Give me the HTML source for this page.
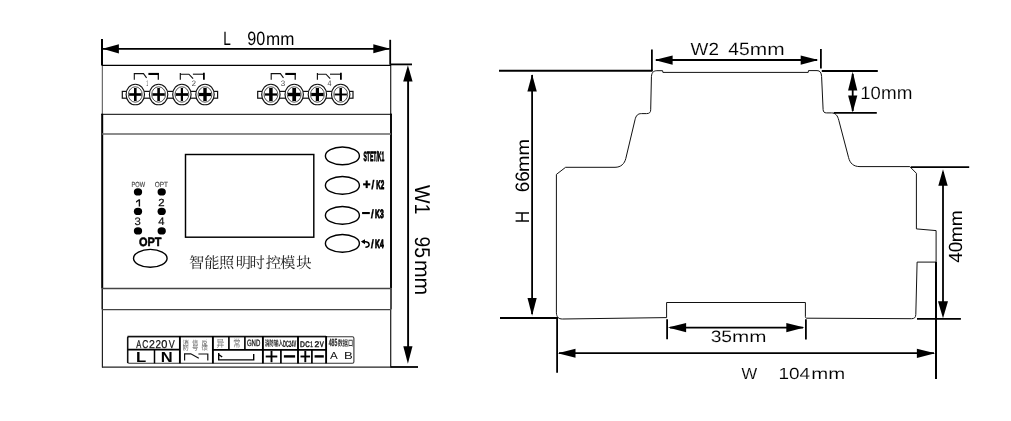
<!DOCTYPE html>
<html><head><meta charset="utf-8"><title>Dimension drawing</title>
<style>
html,body{margin:0;padding:0;background:#fff;}
body{width:1011px;height:421px;overflow:hidden;font-family:"Liberation Sans",sans-serif;}
svg{display:block;will-change:transform;}
</style></head><body>
<svg width="1011" height="421" viewBox="0 0 1011 421" text-rendering="geometricPrecision">
<rect width="1011" height="421" fill="#fff"/>
<line x1="102.3" y1="65" x2="102.3" y2="114" stroke="#4a4a4a" stroke-width="1.0" stroke-linecap="butt"/>
<line x1="390.7" y1="65" x2="390.7" y2="114" stroke="#222" stroke-width="1.2" stroke-linecap="butt"/>
<line x1="102" y1="65.4" x2="391" y2="65.4" stroke="#000" stroke-width="1.2" stroke-linecap="butt"/>
<line x1="102.2" y1="113.8" x2="102.2" y2="288.5" stroke="#000" stroke-width="2.0" stroke-linecap="butt"/>
<line x1="391.0" y1="113.8" x2="391.0" y2="288.5" stroke="#000" stroke-width="1.9" stroke-linecap="butt"/>
<line x1="102.2" y1="288.5" x2="102.2" y2="309.6" stroke="#000" stroke-width="1.4" stroke-linecap="butt"/>
<line x1="391.0" y1="288.5" x2="391.0" y2="309.6" stroke="#000" stroke-width="1.4" stroke-linecap="butt"/>
<line x1="102.4" y1="309.6" x2="102.4" y2="367.5" stroke="#222" stroke-width="1.2" stroke-linecap="butt"/>
<line x1="390.7" y1="309.6" x2="390.7" y2="367.5" stroke="#222" stroke-width="1.25" stroke-linecap="butt"/>
<line x1="101.2" y1="114.3" x2="392" y2="114.3" stroke="#000" stroke-width="1.0" stroke-linecap="butt"/>
<line x1="102" y1="133.9" x2="391" y2="133.9" stroke="#666" stroke-width="1.5" stroke-linecap="butt"/>
<line x1="102" y1="288.5" x2="391" y2="288.5" stroke="#444" stroke-width="1.3" stroke-linecap="butt"/>
<line x1="102" y1="309.6" x2="391" y2="309.6" stroke="#444" stroke-width="1.3" stroke-linecap="butt"/>
<line x1="102" y1="367.2" x2="391" y2="367.2" stroke="#222" stroke-width="1.2" stroke-linecap="butt"/>
<line x1="102.0" y1="39" x2="102.0" y2="65.4" stroke="#000" stroke-width="2.0" stroke-linecap="butt"/>
<line x1="390.2" y1="39.8" x2="390.2" y2="64.8" stroke="#000" stroke-width="1.8" stroke-linecap="butt"/>
<line x1="103" y1="48.8" x2="389.5" y2="48.8" stroke="#000" stroke-width="1.8" stroke-linecap="butt"/>
<polygon points="102.55,48.80 118.90,44.20 118.90,53.40" fill="#000"/>
<polygon points="390.05,48.70 373.30,53.20 373.30,44.20" fill="#000"/>
<text x="223.18" y="44.9" font-size="19.33" font-weight="normal" fill="#000" font-family="'Liberation Sans', sans-serif" text-anchor="start" textLength="7.57" lengthAdjust="spacingAndGlyphs" >L</text>
<text x="247.34" y="44.9" font-size="19.33" font-weight="normal" fill="#000" font-family="'Liberation Sans', sans-serif" text-anchor="start" textLength="17.99" lengthAdjust="spacingAndGlyphs" >90</text>
<text x="265.97" y="44.9" font-size="18.21" font-weight="normal" fill="#000" font-family="'Liberation Sans', sans-serif" text-anchor="start" textLength="28.35" lengthAdjust="spacingAndGlyphs" >mm</text>
<line x1="390.2" y1="64.4" x2="412" y2="64.4" stroke="#000" stroke-width="1.8" stroke-linecap="butt"/>
<line x1="390.7" y1="367.0" x2="418" y2="367.0" stroke="#000" stroke-width="1.8" stroke-linecap="butt"/>
<line x1="408.1" y1="70" x2="408.1" y2="358" stroke="#000" stroke-width="1.9" stroke-linecap="butt"/>
<polygon points="407.90,65.15 412.60,81.40 403.20,81.40" fill="#000"/>
<polygon points="407.90,363.75 403.30,346.30 412.50,346.30" fill="#000"/>
<text x="414.5" y="184.91" font-size="21.51" font-weight="normal" fill="#000" font-family="'Liberation Sans', sans-serif" text-anchor="start" textLength="29.55" lengthAdjust="spacingAndGlyphs" transform="rotate(90 414.5 184.91)" >W1</text>
<text x="414.5" y="236.5" font-size="21.48" font-weight="normal" fill="#000" font-family="'Liberation Sans', sans-serif" text-anchor="start" textLength="21.41" lengthAdjust="spacingAndGlyphs" transform="rotate(90 414.5 236.5)" >95</text>
<text x="414.5" y="259.89" font-size="21.37" font-weight="normal" fill="#000" font-family="'Liberation Sans', sans-serif" text-anchor="start" textLength="35.41" lengthAdjust="spacingAndGlyphs" transform="rotate(90 414.5 259.89)" >mm</text>
<rect x="122.3" y="91.4" width="95.3" height="6.8" fill="#fff" stroke="#111" stroke-width="1.2"/>
<ellipse cx="135.3" cy="94.5" rx="9.2" ry="10.3" fill="#fff" stroke="#111" stroke-width="1.15"/>
<ellipse cx="135.3" cy="94.5" rx="6.9" ry="7.7" fill="none" stroke="#333" stroke-width="0.85"/>
<rect x="129.10000000000002" y="93.2" width="12.4" height="2.6" fill="#000"/>
<rect x="134.0" y="88.0" width="2.6" height="13.0" fill="#000"/>
<ellipse cx="158.6" cy="94.5" rx="9.2" ry="10.3" fill="#fff" stroke="#111" stroke-width="1.15"/>
<ellipse cx="158.6" cy="94.5" rx="6.9" ry="7.7" fill="none" stroke="#333" stroke-width="0.85"/>
<rect x="152.4" y="93.2" width="12.4" height="2.6" fill="#000"/>
<rect x="157.29999999999998" y="88.0" width="2.6" height="13.0" fill="#000"/>
<ellipse cx="181.9" cy="94.5" rx="9.2" ry="10.3" fill="#fff" stroke="#111" stroke-width="1.15"/>
<ellipse cx="181.9" cy="94.5" rx="6.9" ry="7.7" fill="none" stroke="#333" stroke-width="0.85"/>
<rect x="175.70000000000002" y="93.15" width="12.4" height="2.7" fill="#000"/>
<rect x="180.8" y="88.0" width="2.2" height="13.0" fill="#000"/>
<ellipse cx="205.0" cy="94.5" rx="9.2" ry="10.3" fill="#fff" stroke="#111" stroke-width="1.15"/>
<ellipse cx="205.0" cy="94.5" rx="6.9" ry="7.7" fill="none" stroke="#333" stroke-width="0.85"/>
<rect x="198.8" y="92.9" width="12.4" height="3.2" fill="#000"/>
<rect x="203.3" y="88.0" width="3.4" height="13.0" fill="#000"/>
<rect x="257.7" y="91.4" width="95.30000000000001" height="6.8" fill="#fff" stroke="#111" stroke-width="1.2"/>
<ellipse cx="270.9" cy="94.5" rx="9.2" ry="10.3" fill="#fff" stroke="#111" stroke-width="1.15"/>
<ellipse cx="270.9" cy="94.5" rx="6.9" ry="7.7" fill="none" stroke="#333" stroke-width="0.85"/>
<rect x="264.7" y="93.35" width="12.4" height="2.3" fill="#000"/>
<rect x="269.15" y="88.0" width="3.5" height="13.0" fill="#000"/>
<ellipse cx="294.2" cy="94.5" rx="9.2" ry="10.3" fill="#fff" stroke="#111" stroke-width="1.15"/>
<ellipse cx="294.2" cy="94.5" rx="6.9" ry="7.7" fill="none" stroke="#333" stroke-width="0.85"/>
<rect x="288.0" y="92.8" width="12.4" height="3.4" fill="#000"/>
<rect x="292.34999999999997" y="88.0" width="3.7" height="13.0" fill="#000"/>
<ellipse cx="317.4" cy="94.5" rx="9.2" ry="10.3" fill="#fff" stroke="#111" stroke-width="1.15"/>
<ellipse cx="317.4" cy="94.5" rx="6.9" ry="7.7" fill="none" stroke="#333" stroke-width="0.85"/>
<rect x="311.2" y="92.9" width="12.4" height="3.2" fill="#000"/>
<rect x="315.79999999999995" y="88.0" width="3.2" height="13.0" fill="#000"/>
<ellipse cx="340.7" cy="94.5" rx="9.2" ry="10.3" fill="#fff" stroke="#111" stroke-width="1.15"/>
<ellipse cx="340.7" cy="94.5" rx="6.9" ry="7.7" fill="none" stroke="#333" stroke-width="0.85"/>
<rect x="334.5" y="93.55" width="12.4" height="1.9" fill="#000"/>
<rect x="339.45" y="88.0" width="2.5" height="13.0" fill="#000"/>
<path d="M134.3 79.8V73.6H143.5L146.60000000000002 77.89999999999999" stroke="#111" stroke-width="1.1" fill="none" />
<path d="M148.4 73.94999999999999H158.8" stroke="#000" stroke-width="2.1" fill="none" />
<path d="M158.3 73.1V79.8" stroke="#000" stroke-width="1.2" fill="none" />
<text x="146.23" y="85.8" font-size="7.99" font-weight="normal" fill="#444" font-family="'Liberation Sans', sans-serif" text-anchor="start" textLength="1.93" lengthAdjust="spacingAndGlyphs" >1</text>
<path d="M180.3 72.9V79.8M180.3 74.2H188.9L193.10000000000002 78.6" stroke="#111" stroke-width="1.15" fill="none" />
<path d="M192.9 74.2H203.9" stroke="#111" stroke-width="1.1" fill="none" />
<path d="M203.9 72.8V79.8" stroke="#000" stroke-width="1.8" fill="none" />
<text x="191.81" y="85.9" font-size="7.88" font-weight="normal" fill="#444" font-family="'Liberation Sans', sans-serif" text-anchor="start" textLength="4.27" lengthAdjust="spacingAndGlyphs" >2</text>
<path d="M271.2 79.8V73.6H280.4L283.5 77.89999999999999" stroke="#111" stroke-width="1.1" fill="none" />
<path d="M285.3 73.94999999999999H295.7" stroke="#000" stroke-width="2.1" fill="none" />
<path d="M295.2 73.1V79.8" stroke="#000" stroke-width="1.2" fill="none" />
<text x="280.89" y="85.6" font-size="7.88" font-weight="normal" fill="#444" font-family="'Liberation Sans', sans-serif" text-anchor="start" textLength="4.46" lengthAdjust="spacingAndGlyphs" >3</text>
<path d="M317.4 72.9V79.8M317.4 74.2H326.0L330.2 78.6" stroke="#111" stroke-width="1.15" fill="none" />
<path d="M330.0 74.2H340.9" stroke="#111" stroke-width="1.1" fill="none" />
<path d="M340.9 72.8V79.8" stroke="#000" stroke-width="1.8" fill="none" />
<text x="327.44" y="85.9" font-size="7.99" font-weight="normal" fill="#444" font-family="'Liberation Sans', sans-serif" text-anchor="start" textLength="3.97" lengthAdjust="spacingAndGlyphs" >4</text>
<rect x="185.5" y="154.5" width="128.3" height="82.7" fill="none" stroke="#000" stroke-width="1.45"/>
<ellipse cx="138.0" cy="191.9" rx="4.15" ry="3.65" fill="#000"/>
<ellipse cx="138.0" cy="211.4" rx="4.15" ry="3.65" fill="#000"/>
<ellipse cx="138.0" cy="230.9" rx="4.15" ry="3.65" fill="#000"/>
<ellipse cx="161.7" cy="191.9" rx="4.15" ry="3.65" fill="#000"/>
<ellipse cx="161.7" cy="211.4" rx="4.15" ry="3.65" fill="#000"/>
<ellipse cx="161.7" cy="230.9" rx="4.15" ry="3.65" fill="#000"/>
<text x="131.43" y="186.9" font-size="7.45" font-weight="normal" fill="#444" font-family="'Liberation Sans', sans-serif" text-anchor="start" textLength="13.59" lengthAdjust="spacingAndGlyphs" stroke="#444" stroke-width="0.15" stroke-linejoin="round" >POW</text>
<text x="154.79" y="186.9" font-size="7.45" font-weight="normal" fill="#444" font-family="'Liberation Sans', sans-serif" text-anchor="start" textLength="13.25" lengthAdjust="spacingAndGlyphs" stroke="#444" stroke-width="0.15" stroke-linejoin="round" >OPT</text>
<polygon points="136.00,201.30 138.80,199.20 140.10,199.20 140.10,206.40 138.70,206.40 138.70,201.00 136.00,202.70" fill="#111"/>
<text x="158.23" y="206.4" font-size="10.31" font-weight="normal" fill="#111" font-family="'Liberation Sans', sans-serif" text-anchor="start" textLength="6.35" lengthAdjust="spacingAndGlyphs" stroke="#111" stroke-width="0.25" stroke-linejoin="round" >2</text>
<text x="134.47" y="225.1" font-size="10.88" font-weight="normal" fill="#111" font-family="'Liberation Sans', sans-serif" text-anchor="start" textLength="6.33" lengthAdjust="spacingAndGlyphs" stroke="#111" stroke-width="0.15" stroke-linejoin="round" >3</text>
<text x="158.24" y="225.0" font-size="10.76" font-weight="normal" fill="#111" font-family="'Liberation Sans', sans-serif" text-anchor="start" textLength="6.29" lengthAdjust="spacingAndGlyphs" stroke="#111" stroke-width="0.15" stroke-linejoin="round" >4</text>
<text x="138.95" y="245.6" font-size="12.17" font-weight="bold" fill="#000" font-family="'Liberation Sans', sans-serif" text-anchor="start" textLength="22.57" lengthAdjust="spacingAndGlyphs" stroke="#000" stroke-width="0.55" stroke-linejoin="round" >OPT</text>
<ellipse cx="150.3" cy="258.3" rx="16.8" ry="8.9" fill="none" stroke="#000" stroke-width="1.4"/>
<ellipse cx="342.4" cy="155.9" rx="17.0" ry="8.85" fill="none" stroke="#000" stroke-width="1.4"/>
<ellipse cx="342.4" cy="185.4" rx="17.0" ry="8.85" fill="none" stroke="#000" stroke-width="1.4"/>
<ellipse cx="342.4" cy="215.4" rx="17.0" ry="8.85" fill="none" stroke="#000" stroke-width="1.4"/>
<ellipse cx="342.4" cy="243.4" rx="17.0" ry="8.85" fill="none" stroke="#000" stroke-width="1.4"/>
<text x="363.5" y="160.7" font-size="13.4" font-weight="bold" fill="#000" font-family="'Liberation Sans', sans-serif" text-anchor="start" textLength="20.8" lengthAdjust="spacingAndGlyphs" stroke="#000" stroke-width="0.85" stroke-linejoin="round" >STET/K1</text>
<rect x="363.1" y="183.3" width="7.2" height="2.1" fill="#000"/>
<rect x="365.65" y="180.5" width="2.1" height="7.6" fill="#000"/>
<text x="371.3" y="188.6" font-size="12.5" font-weight="bold" fill="#000" font-family="'Liberation Sans', sans-serif" text-anchor="start" textLength="3.2" lengthAdjust="spacingAndGlyphs" stroke="#000" stroke-width="0.25" stroke-linejoin="round" >/</text>
<text x="376.3" y="188.6" font-size="12.5" font-weight="bold" fill="#000" font-family="'Liberation Sans', sans-serif" text-anchor="start" textLength="8.0" lengthAdjust="spacingAndGlyphs" stroke="#000" stroke-width="0.95" stroke-linejoin="round" >K2</text>
<rect x="362.1" y="212.0" width="7.7" height="2.1" fill="#000"/>
<text x="370.8" y="217.8" font-size="12.2" font-weight="bold" fill="#000" font-family="'Liberation Sans', sans-serif" text-anchor="start" textLength="3.2" lengthAdjust="spacingAndGlyphs" stroke="#000" stroke-width="0.25" stroke-linejoin="round" >/</text>
<text x="375.1" y="217.8" font-size="12.2" font-weight="bold" fill="#000" font-family="'Liberation Sans', sans-serif" text-anchor="start" textLength="8.6" lengthAdjust="spacingAndGlyphs" stroke="#000" stroke-width="0.95" stroke-linejoin="round" >K3</text>
<text x="370.8" y="248.1" font-size="12.2" font-weight="bold" fill="#000" font-family="'Liberation Sans', sans-serif" text-anchor="start" textLength="3.2" lengthAdjust="spacingAndGlyphs" stroke="#000" stroke-width="0.25" stroke-linejoin="round" >/</text>
<text x="375.1" y="248.1" font-size="12.2" font-weight="bold" fill="#000" font-family="'Liberation Sans', sans-serif" text-anchor="start" textLength="8.6" lengthAdjust="spacingAndGlyphs" stroke="#000" stroke-width="0.95" stroke-linejoin="round" >K4</text>
<path d="M362.6 242.3 C365.5 241.3 369.0 241.8 369.1 244.4 C369.1 246.4 367.4 247.1 365.4 247.2" stroke="#000" stroke-width="1.5" fill="none" />
<polygon points="360.90,241.60 365.00,239.20 365.00,244.20" fill="#000"/>
<text x="188.92 204.13 218.93 235.77 249.59 265.72 279.92 296.17" y="268.15" font-size="15.3" font-weight="normal" fill="#1c1c1c" font-family="'Liberation Serif', 'Noto Serif CJK SC', serif" text-anchor="start">智能照明时控模块</text>
<rect x="127.5" y="336.8" width="226.4" height="26.4" rx="1.5" fill="none" stroke="#333" stroke-width="1.1"/>
<line x1="127.5" y1="336.5" x2="326" y2="336.5" stroke="#111" stroke-width="1.4" stroke-linecap="butt"/>
<line x1="127.5" y1="349.7" x2="179.8" y2="349.7" stroke="#000" stroke-width="1.7" stroke-linecap="butt"/>
<line x1="212.8" y1="349.8" x2="326" y2="349.8" stroke="#000" stroke-width="1.8" stroke-linecap="butt"/>
<line x1="127.7" y1="337" x2="127.7" y2="363" stroke="#111" stroke-width="1.5" stroke-linecap="butt"/>
<line x1="154.5" y1="349.5" x2="154.5" y2="363.3" stroke="#000" stroke-width="1.5" stroke-linecap="butt"/>
<line x1="179.9" y1="336.0" x2="179.9" y2="363.4" stroke="#000" stroke-width="1.9" stroke-linecap="butt"/>
<line x1="212.9" y1="336.0" x2="212.9" y2="363.4" stroke="#000" stroke-width="1.9" stroke-linecap="butt"/>
<line x1="262.9" y1="336.0" x2="262.9" y2="363.4" stroke="#000" stroke-width="1.9" stroke-linecap="butt"/>
<line x1="298.0" y1="336.0" x2="298.0" y2="363.4" stroke="#000" stroke-width="1.9" stroke-linecap="butt"/>
<line x1="326.1" y1="336.0" x2="326.1" y2="363.4" stroke="#000" stroke-width="1.9" stroke-linecap="butt"/>
<line x1="228.9" y1="336.8" x2="228.9" y2="349.5" stroke="#000" stroke-width="1.6" stroke-linecap="butt"/>
<line x1="244.9" y1="336.8" x2="244.9" y2="349.5" stroke="#000" stroke-width="1.6" stroke-linecap="butt"/>
<line x1="280.9" y1="349.5" x2="280.9" y2="363.3" stroke="#000" stroke-width="1.7" stroke-linecap="butt"/>
<line x1="311.9" y1="349.5" x2="311.9" y2="363.3" stroke="#000" stroke-width="1.7" stroke-linecap="butt"/>
<text x="136.19" y="347.7" font-size="11.3" font-weight="normal" fill="#111" font-family="'Liberation Sans', sans-serif" text-anchor="start" textLength="5.03" lengthAdjust="spacingAndGlyphs" stroke="#111" stroke-width="0.25" stroke-linejoin="round" >A</text>
<text x="142.18" y="347.7" font-size="11.3" font-weight="normal" fill="#111" font-family="'Liberation Sans', sans-serif" text-anchor="start" textLength="6.04" lengthAdjust="spacingAndGlyphs" stroke="#111" stroke-width="0.25" stroke-linejoin="round" >C</text>
<text x="148.97" y="347.7" font-size="11.3" font-weight="normal" fill="#111" font-family="'Liberation Sans', sans-serif" text-anchor="start" textLength="5.86" lengthAdjust="spacingAndGlyphs" stroke="#111" stroke-width="0.25" stroke-linejoin="round" >2</text>
<text x="155.4" y="347.7" font-size="11.3" font-weight="normal" fill="#111" font-family="'Liberation Sans', sans-serif" text-anchor="start" textLength="5.49" lengthAdjust="spacingAndGlyphs" stroke="#111" stroke-width="0.25" stroke-linejoin="round" >2</text>
<text x="161.37" y="347.7" font-size="11.3" font-weight="normal" fill="#111" font-family="'Liberation Sans', sans-serif" text-anchor="start" textLength="6.17" lengthAdjust="spacingAndGlyphs" stroke="#111" stroke-width="0.25" stroke-linejoin="round" >0</text>
<text x="168.66" y="347.7" font-size="11.3" font-weight="normal" fill="#111" font-family="'Liberation Sans', sans-serif" text-anchor="start" textLength="5.98" lengthAdjust="spacingAndGlyphs" stroke="#111" stroke-width="0.25" stroke-linejoin="round" >V</text>
<text x="136.08" y="361.9" font-size="14.54" font-weight="bold" fill="#000" font-family="'Liberation Sans', sans-serif" text-anchor="start" textLength="10.24" lengthAdjust="spacingAndGlyphs" >L</text>
<text x="160.7" y="361.9" font-size="14.54" font-weight="bold" fill="#000" font-family="'Liberation Sans', sans-serif" text-anchor="start" textLength="11.92" lengthAdjust="spacingAndGlyphs" >N</text>
<text x="182.6 192.05 201.5" y="344.7" font-size="6.4" font-weight="normal" fill="#555" font-family="'Liberation Sans', 'Noto Sans CJK SC', sans-serif" text-anchor="start">消信反</text>
<text x="182.6 192.05 201.5" y="350.3" font-size="6.4" font-weight="normal" fill="#555" font-family="'Liberation Sans', 'Noto Sans CJK SC', sans-serif" text-anchor="start">防号馈</text>
<path d="M184.6 360.4V353.8H190.8L198.8 358.2M198.4 354H207.8V360.4" stroke="#111" stroke-width="1.2" fill="none" />
<text x="216.4" y="347.0" font-size="10.16" font-weight="normal" fill="#777" font-family="'Liberation Sans', 'Noto Sans CJK SC', sans-serif" text-anchor="start" textLength="7.76" lengthAdjust="spacingAndGlyphs">异</text>
<text x="233.3" y="347.0" font-size="10.16" font-weight="normal" fill="#777" font-family="'Liberation Sans', 'Noto Sans CJK SC', sans-serif" text-anchor="start" textLength="7.2" lengthAdjust="spacingAndGlyphs">常</text>
<text x="246.9" y="346.3" font-size="9.17" font-weight="normal" fill="#222" font-family="'Liberation Sans', sans-serif" text-anchor="start" textLength="13.39" lengthAdjust="spacingAndGlyphs" stroke="#222" stroke-width="0.35" stroke-linejoin="round" >GND</text>
<path d="M218.7 353.1V359.9H253.7V354M218.7 354.5L222.2 357" stroke="#000" stroke-width="1.4" fill="none" />
<text x="264.8" y="346.4" font-size="7.99" font-weight="bold" fill="#1a1a1a" font-family="'Liberation Sans', 'Noto Sans CJK SC', sans-serif" text-anchor="start" textLength="18.2" lengthAdjust="spacingAndGlyphs">消防输入</text>
<text x="283.03" y="346.9" font-size="9.31" font-weight="bold" fill="#1a1a1a" font-family="'Liberation Sans', sans-serif" text-anchor="start" textLength="13.1" lengthAdjust="spacingAndGlyphs" stroke="#1a1a1a" stroke-width="0.2" stroke-linejoin="round" >DC24V</text>
<text x="299.95" y="346.7" font-size="8.12" font-weight="normal" fill="#1a1a1a" font-family="'Liberation Sans', sans-serif" text-anchor="start" textLength="4.88" lengthAdjust="spacingAndGlyphs" stroke="#1a1a1a" stroke-width="0.45" stroke-linejoin="round" >D</text>
<text x="305.19" y="346.7" font-size="8.12" font-weight="normal" fill="#1a1a1a" font-family="'Liberation Sans', sans-serif" text-anchor="start" textLength="4.45" lengthAdjust="spacingAndGlyphs" stroke="#1a1a1a" stroke-width="0.45" stroke-linejoin="round" >C</text>
<text x="310.35" y="346.7" font-size="8.12" font-weight="normal" fill="#1a1a1a" font-family="'Liberation Sans', sans-serif" text-anchor="start" textLength="2.58" lengthAdjust="spacingAndGlyphs" stroke="#1a1a1a" stroke-width="0.45" stroke-linejoin="round" >1</text>
<text x="314.47" y="346.7" font-size="8.12" font-weight="normal" fill="#1a1a1a" font-family="'Liberation Sans', sans-serif" text-anchor="start" textLength="4.76" lengthAdjust="spacingAndGlyphs" stroke="#1a1a1a" stroke-width="0.45" stroke-linejoin="round" >2</text>
<text x="319.77" y="346.7" font-size="8.12" font-weight="normal" fill="#1a1a1a" font-family="'Liberation Sans', sans-serif" text-anchor="start" textLength="4.05" lengthAdjust="spacingAndGlyphs" stroke="#1a1a1a" stroke-width="0.45" stroke-linejoin="round" >V</text>
<text x="328.72" y="346.4" font-size="10.45" font-weight="bold" fill="#333" font-family="'Liberation Sans', sans-serif" text-anchor="start" textLength="8.52" lengthAdjust="spacingAndGlyphs" stroke="#333" stroke-width="0.3" stroke-linejoin="round" >485</text>
<text x="337.7" y="345.8" font-size="8.2" font-weight="bold" fill="#3a3a3a" font-family="'Liberation Sans', 'Noto Sans CJK SC', sans-serif" text-anchor="start" textLength="15.4" lengthAdjust="spacingAndGlyphs">数据口</text>
<rect x="265.7" y="355.55" width="11.6" height="1.9" fill="#000"/>
<rect x="270.55" y="350.8" width="1.9" height="11.4" fill="#000"/>
<rect x="283.9" y="355.2" width="11.2" height="2.4" fill="#000"/>
<rect x="300.5" y="355.55" width="9.6" height="1.9" fill="#000"/>
<rect x="304.35" y="350.8" width="1.9" height="11.4" fill="#000"/>
<rect x="314.6" y="355.2" width="9.2" height="2.4" fill="#000"/>
<text x="329.98" y="358.5" font-size="10.17" font-weight="normal" fill="#111" font-family="'Liberation Sans', sans-serif" text-anchor="start" textLength="7.75" lengthAdjust="spacingAndGlyphs" >A</text>
<text x="343.92" y="358.5" font-size="10.17" font-weight="normal" fill="#111" font-family="'Liberation Sans', sans-serif" text-anchor="start" textLength="8.77" lengthAdjust="spacingAndGlyphs" >B</text>
<path d="M651.4 78 C651.4 73.2 652.8 70.8 656.8 70.7 H662.6 L662.9 72.4 H808.2 L808.5 70.6 H817.0 C820.2 70.6 821.3 72.6 821.6 76.5 L823.1 109.5 C823.3 112 824.3 112.9 826.5 112.9 H831.5 C835.5 112.9 837.6 115.5 838.8 120.3 L848.5 157.3 C850 163.5 853.5 166.6 860 166.6 H909.8 L916.4 173.3 V228.9 L936.1 230.6 V262.1 H917.1 L915.8 314.5 C915.7 317.6 914.3 318.7 911.5 318.7 L806.8 318.2 C805.8 318.2 805.4 317.6 805.4 316.6 V302.5 H666.6 V317.6 L562.5 319.0 C558.5 319.0 556.6 317.2 556.4 312.8 L556.4 174.4 L565.6 167.3 H615 C621 167.3 624.5 163.7 625.8 158.5 L635.0 119.8 C636 115.5 637.8 113.6 641.5 113.6 H646.5 C649.5 113.6 650.6 112.4 650.7 109.8 Z" stroke="#111" stroke-width="1.0" fill="none" stroke-linejoin="round"/>
<line x1="499" y1="70.8" x2="652.6" y2="70.8" stroke="#000" stroke-width="2.0" stroke-linecap="butt"/>
<line x1="500" y1="318.0" x2="557.9" y2="318.0" stroke="#000" stroke-width="2.0" stroke-linecap="butt"/>
<line x1="532.1" y1="75" x2="532.1" y2="314" stroke="#000" stroke-width="1.8" stroke-linecap="butt"/>
<polygon points="532.10,74.35 536.80,91.60 527.40,91.60" fill="#000"/>
<polygon points="532.10,315.65 527.50,297.90 536.70,297.90" fill="#000"/>
<text x="529.2" y="223.22" font-size="19.48" font-weight="normal" fill="#000" font-family="'Liberation Sans', sans-serif" text-anchor="start" textLength="12.54" lengthAdjust="spacingAndGlyphs" transform="rotate(-90 529.2 223.22)" >H</text>
<text x="529.2" y="192.26" font-size="19.48" font-weight="normal" fill="#000" font-family="'Liberation Sans', sans-serif" text-anchor="start" textLength="21.1" lengthAdjust="spacingAndGlyphs" transform="rotate(-90 529.2 192.26)" >66</text>
<text x="529.2" y="171.91" font-size="17.66" font-weight="normal" fill="#000" font-family="'Liberation Sans', sans-serif" text-anchor="start" textLength="32.91" lengthAdjust="spacingAndGlyphs" transform="rotate(-90 529.2 171.91)" >mm</text>
<line x1="651.9" y1="49.6" x2="651.9" y2="71.0" stroke="#000" stroke-width="1.8" stroke-linecap="butt"/>
<line x1="820.9" y1="49.0" x2="820.9" y2="68.6" stroke="#000" stroke-width="1.8" stroke-linecap="butt"/>
<line x1="656" y1="60.0" x2="817" y2="60.0" stroke="#000" stroke-width="1.8" stroke-linecap="butt"/>
<polygon points="654.55,60.10 672.60,55.40 672.60,64.80" fill="#000"/>
<polygon points="818.45,60.10 800.70,64.80 800.70,55.40" fill="#000"/>
<text x="690.62" y="54.7" font-size="17.62" font-weight="normal" fill="#000" font-family="'Liberation Sans', sans-serif" text-anchor="start" textLength="28.33" lengthAdjust="spacingAndGlyphs" stroke="#fff" stroke-width="0.12" >W2</text>
<text x="728.26" y="54.7" font-size="17.88" font-weight="normal" fill="#000" font-family="'Liberation Sans', sans-serif" text-anchor="start" textLength="21.35" lengthAdjust="spacingAndGlyphs" stroke="#fff" stroke-width="0.12" >45</text>
<text x="749.81" y="54.7" font-size="17.28" font-weight="normal" fill="#000" font-family="'Liberation Sans', sans-serif" text-anchor="start" textLength="34.87" lengthAdjust="spacingAndGlyphs" stroke="#fff" stroke-width="0.12" >mm</text>
<line x1="821.8" y1="71.0" x2="877.8" y2="71.0" stroke="#000" stroke-width="1.8" stroke-linecap="butt"/>
<line x1="833.8" y1="112.9" x2="876.8" y2="112.9" stroke="#000" stroke-width="1.8" stroke-linecap="butt"/>
<line x1="852.7" y1="74" x2="852.7" y2="111" stroke="#000" stroke-width="1.8" stroke-linecap="butt"/>
<polygon points="852.70,71.85 857.30,90.60 848.10,90.60" fill="#000"/>
<polygon points="852.70,112.55 848.10,95.60 857.30,95.60" fill="#000"/>
<text x="860.29" y="99.1" font-size="18.05" font-weight="normal" fill="#000" font-family="'Liberation Sans', sans-serif" text-anchor="start" textLength="20.53" lengthAdjust="spacingAndGlyphs" stroke="#fff" stroke-width="0.12" >10</text>
<text x="880.95" y="99.1" font-size="18.4" font-weight="normal" fill="#000" font-family="'Liberation Sans', sans-serif" text-anchor="start" textLength="31.39" lengthAdjust="spacingAndGlyphs" stroke="#fff" stroke-width="0.12" >mm</text>
<line x1="910.8" y1="167.1" x2="969.2" y2="167.1" stroke="#000" stroke-width="1.8" stroke-linecap="butt"/>
<line x1="917.0" y1="318.9" x2="960.9" y2="318.9" stroke="#000" stroke-width="1.8" stroke-linecap="butt"/>
<line x1="943.0" y1="172" x2="943.0" y2="315" stroke="#000" stroke-width="1.8" stroke-linecap="butt"/>
<polygon points="943.00,169.35 947.70,185.80 938.30,185.80" fill="#000"/>
<polygon points="943.00,318.25 938.00,301.20 948.00,301.20" fill="#000"/>
<text x="961.6" y="262.83" font-size="19.05" font-weight="normal" fill="#000" font-family="'Liberation Sans', sans-serif" text-anchor="start" textLength="21.07" lengthAdjust="spacingAndGlyphs" transform="rotate(-90 961.6 262.83)" >40</text>
<text x="961.6" y="242.27" font-size="17.66" font-weight="normal" fill="#000" font-family="'Liberation Sans', sans-serif" text-anchor="start" textLength="31.94" lengthAdjust="spacingAndGlyphs" transform="rotate(-90 961.6 242.27)" >mm</text>
<line x1="667.1" y1="319.3" x2="667.1" y2="339.2" stroke="#000" stroke-width="1.8" stroke-linecap="butt"/>
<line x1="805.9" y1="319.3" x2="805.9" y2="339.6" stroke="#000" stroke-width="1.8" stroke-linecap="butt"/>
<line x1="670" y1="327.6" x2="803" y2="327.6" stroke="#000" stroke-width="1.8" stroke-linecap="butt"/>
<polygon points="667.95,327.60 686.10,323.00 686.10,332.20" fill="#000"/>
<polygon points="804.45,327.60 786.30,332.20 786.30,323.00" fill="#000"/>
<text x="710.67" y="342.0" font-size="16.47" font-weight="normal" fill="#000" font-family="'Liberation Sans', sans-serif" text-anchor="start" textLength="21.44" lengthAdjust="spacingAndGlyphs" stroke="#fff" stroke-width="0.12" >35</text>
<text x="732.13" y="342.0" font-size="15.98" font-weight="normal" fill="#000" font-family="'Liberation Sans', sans-serif" text-anchor="start" textLength="34.44" lengthAdjust="spacingAndGlyphs" stroke="#fff" stroke-width="0.12" >mm</text>
<line x1="557.1" y1="317.7" x2="557.1" y2="372.8" stroke="#000" stroke-width="1.8" stroke-linecap="butt"/>
<line x1="936.0" y1="262.1" x2="936.0" y2="379.0" stroke="#000" stroke-width="2.0" stroke-linecap="butt"/>
<line x1="559" y1="353.1" x2="934" y2="353.1" stroke="#000" stroke-width="1.8" stroke-linecap="butt"/>
<polygon points="557.75,353.30 575.50,348.80 575.50,357.80" fill="#000"/>
<polygon points="935.15,353.30 916.90,357.90 916.90,348.70" fill="#000"/>
<text x="741.43" y="378.9" font-size="16.13" font-weight="normal" fill="#000" font-family="'Liberation Sans', sans-serif" text-anchor="start" textLength="15.63" lengthAdjust="spacingAndGlyphs" stroke="#fff" stroke-width="0.12" >W</text>
<text x="778.46" y="378.9" font-size="16.04" font-weight="normal" fill="#000" font-family="'Liberation Sans', sans-serif" text-anchor="start" textLength="31.6" lengthAdjust="spacingAndGlyphs" stroke="#fff" stroke-width="0.12" >104</text>
<text x="811.34" y="378.9" font-size="15.98" font-weight="normal" fill="#000" font-family="'Liberation Sans', sans-serif" text-anchor="start" textLength="34.0" lengthAdjust="spacingAndGlyphs" stroke="#fff" stroke-width="0.12" >mm</text>
</svg>
</body></html>
